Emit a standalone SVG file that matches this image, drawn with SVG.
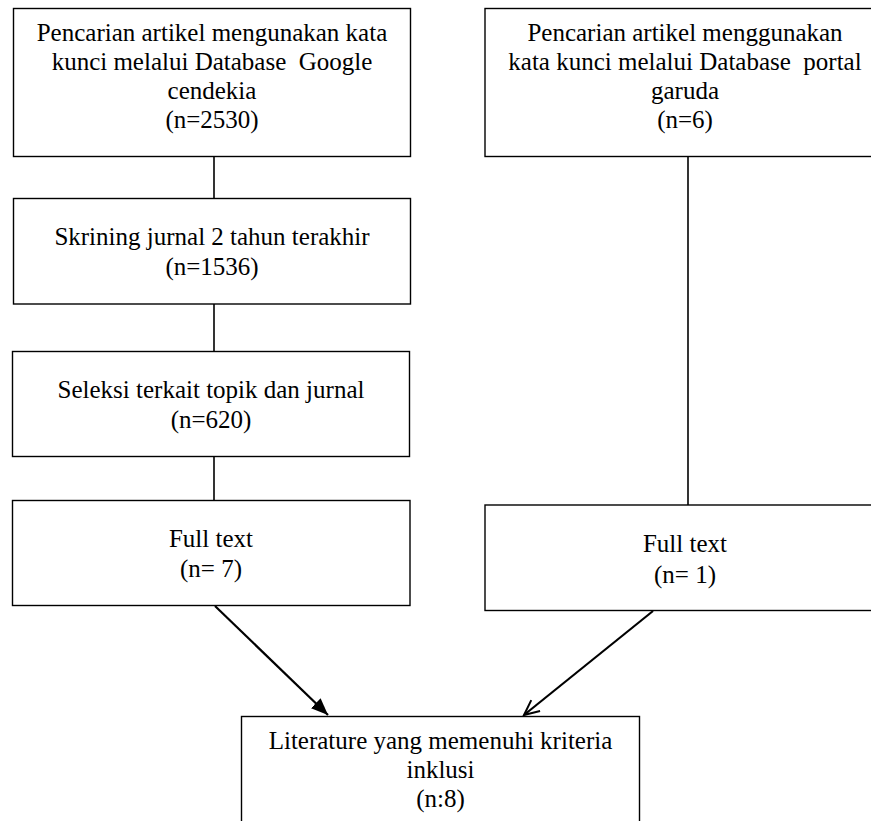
<svg xmlns="http://www.w3.org/2000/svg" width="871" height="821" viewBox="0 0 871 821">
<style>
.box{fill:#fff;stroke:#000;stroke-width:1.4}
.t{font-family:"Liberation Serif","Times New Roman",serif;font-size:25px;fill:#000;text-anchor:middle;white-space:pre}
.ln{stroke:#000;stroke-width:1.6;fill:none}
.ar{stroke:#000;stroke-width:2.2;fill:none}
</style>
<defs>
<marker id="fill" markerUnits="userSpaceOnUse" markerWidth="18" markerHeight="14" refX="17" refY="7" orient="auto">
<path d="M0,0 L17,7 L0,14 z" fill="#000"/>
</marker>
<marker id="open" markerUnits="userSpaceOnUse" markerWidth="20" markerHeight="16" refX="16" refY="8" orient="auto">
<path d="M1,1 L16,8 L1,15" fill="none" stroke="#000" stroke-width="2"/>
</marker>
</defs>
<rect width="871" height="821" fill="#fff"/>
<g id="connectors">
<line class="ln" x1="214" y1="156.5" x2="214" y2="198.5"/>
<line class="ln" x1="214" y1="304" x2="214" y2="351.5"/>
<line class="ln" x1="214" y1="456.5" x2="214" y2="500.5"/>
<line class="ln" x1="688" y1="156.5" x2="688" y2="505"/>
<line class="ar" x1="215" y1="606" x2="328" y2="715" marker-end="url(#fill)"/>
<line class="ar" x1="653" y1="611" x2="524" y2="715" marker-end="url(#open)"/>
</g>
<g id="google">
<rect class="box" x="13.5" y="8.5" width="397" height="148"/>
<text class="t" x="212" y="41">Pencarian artikel mengunakan kata</text>
<text class="t" x="212" y="70" xml:space="preserve">kunci melalui Database  Google</text>
<text class="t" x="212" y="99">cendekia</text>
<text class="t" x="212" y="128">(n=2530)</text>
</g>
<g id="skrining">
<rect class="box" x="13.5" y="198.5" width="397" height="105.5"/>
<text class="t" x="212" y="244.5">Skrining jurnal 2 tahun terakhir</text>
<text class="t" x="212" y="275">(n=1536)</text>
</g>
<g id="seleksi">
<rect class="box" x="12.5" y="351.5" width="397" height="105"/>
<text class="t" x="211" y="398.3">Seleksi terkait topik dan jurnal</text>
<text class="t" x="211" y="428.3">(n=620)</text>
</g>
<g id="fulltext-left">
<rect class="box" x="12.5" y="500.5" width="397.5" height="105"/>
<text class="t" x="211" y="546.7">Full text</text>
<text class="t" x="211" y="577.3">(n= 7)</text>
</g>
<g id="garuda">
<rect class="box" x="485" y="8.5" width="400" height="148"/>
<text class="t" x="685" y="41">Pencarian artikel menggunakan</text>
<text class="t" x="685" y="70" xml:space="preserve">kata kunci melalui Database  portal</text>
<text class="t" x="685" y="99">garuda</text>
<text class="t" x="685" y="128">(n=6)</text>
</g>
<g id="fulltext-right">
<rect class="box" x="485" y="505" width="400" height="105.5"/>
<text class="t" x="685" y="551.7">Full text</text>
<text class="t" x="685" y="582.7">(n= 1)</text>
</g>
<g id="inklusi">
<rect class="box" x="241.5" y="716.5" width="398" height="130"/>
<text class="t" x="440.5" y="748.5">Literature yang memenuhi kriteria</text>
<text class="t" x="440.5" y="778">inklusi</text>
<text class="t" x="440.5" y="807">(n:8)</text>
</g>
</svg>
